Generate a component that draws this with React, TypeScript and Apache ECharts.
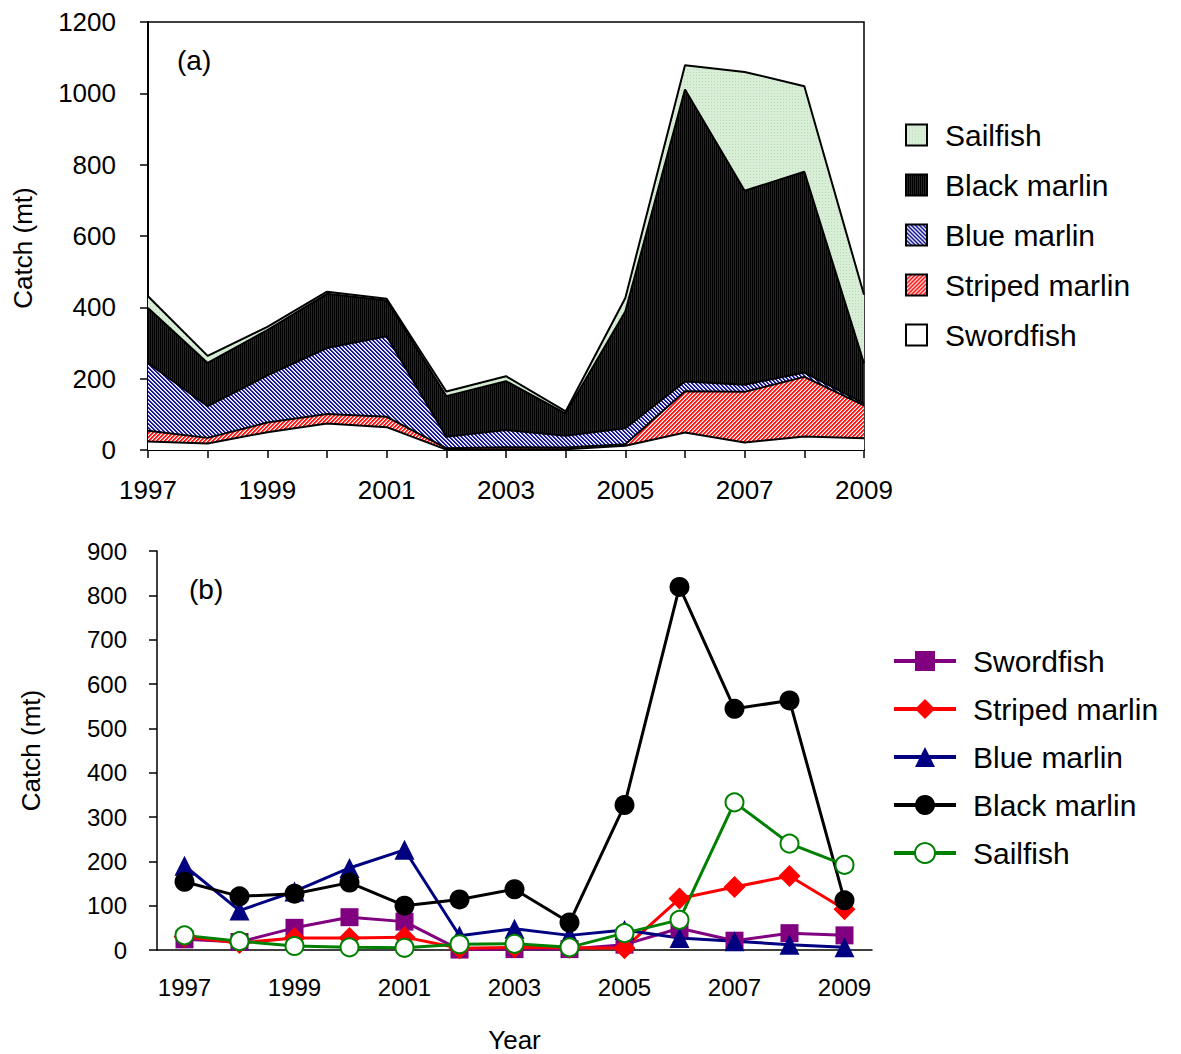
import React, { useEffect, useRef } from "react";
import * as echarts from "echarts";

// Annual catch (mt) by species, 1997-2009
const years = ["1997", "1998", "1999", "2000", "2001", "2002", "2003", "2004", "2005", "2006", "2007", "2008", "2009"];
const swordfish = [24, 18, 50, 74, 64, 1, 2, 2, 12, 49, 21, 38, 33];
const stripedMarlin = [30, 16, 27, 27, 29, 4, 6, 5, 4, 116, 142, 167, 92];
const blueMarlin = [190, 89, 132, 185, 226, 32, 48, 33, 45, 27, 20, 12, 6];
const blackMarlin = [154, 121, 127, 152, 100, 114, 137, 62, 327, 819, 544, 563, 112];
const sailfish = [33, 20, 9, 6, 5, 13, 14, 6, 38, 68, 333, 240, 192];

const FONT = "'Liberation Sans', Arial, Helvetica, sans-serif";
const plainNumber = (v: number) => String(v);

// Small repeating bitmap tiles used as hatch fills
function tile(size: number, paint: (x: number, y: number) => string) {
  const c = document.createElement("canvas");
  c.width = size;
  c.height = size;
  const ctx = c.getContext("2d")!;
  for (let y = 0; y < size; y++) {
    for (let x = 0; x < size; x++) {
      ctx.fillStyle = paint(x, y);
      ctx.fillRect(x, y, 1, 1);
    }
  }
  return { image: c.toDataURL(), repeat: "repeat", imageWidth: size, imageHeight: size } as any;
}

function makeFills() {
  return {
    sail: tile(3, (x, y) => (x % 3 === 0 && y % 3 === 0 ? "#b9dab5" : "#d9eed6")),
    black: tile(2, (x) => (x === 0 ? "#000000" : "#262626")),
    blue: tile(4, (x, y) => ((x - y + 8) % 4 < 2 ? "#1a1a96" : (x - y + 8) % 4 === 2 ? "#c0c0ea" : "#ffffff")),
    striped: tile(4, (x, y) => ((x + y) % 4 < 2 ? "#ff1a1a" : (x + y) % 4 === 2 ? "#ff9090" : "#ffffff")),
    sword: "#ffffff",
  };
}

function topOption(f: ReturnType<typeof makeFills>): any {
  const areaSeries = (name: string, data: number[], fill: any) => ({
    name,
    type: "line",
    stack: "catch",
    data,
    symbol: "none",
    showSymbol: false,
    lineStyle: { color: "#000", width: 2 },
    itemStyle: { color: "#000" },
    areaStyle: { color: fill, opacity: 1 },
    emphasis: { disabled: true },
  });
  const legendItem = (name: string, fill: any) => ({
    name,
    icon: "rect",
    itemStyle: { color: fill, borderColor: "#000", borderWidth: 2, opacity: 1 },
  });
  return {
    animation: false,
    textStyle: { fontFamily: FONT, color: "#000" },
    title: {
      text: "(a)",
      left: 172,
      top: 41,
      textStyle: { fontSize: 28, fontWeight: "normal", color: "#000", fontFamily: FONT },
    },
    grid: {
      left: 148,
      top: 22,
      width: 716,
      height: 428,
      outerBoundsMode: "none",
      show: true,
      borderColor: "#000",
      borderWidth: 1.5,
      backgroundColor: "transparent",
    },
    legend: {
      orient: "vertical",
      left: 905,
      top: 120,
      padding: 0,
      itemWidth: 21,
      itemHeight: 21,
      itemGap: 20,
      selectedMode: false,
      textStyle: { fontSize: 30, lineHeight: 30, color: "#000", fontFamily: FONT, padding: [0, 0, 0, 13] },
      data: [
        legendItem("Sailfish", f.sail),
        legendItem("Black marlin", f.black),
        legendItem("Blue marlin", f.blue),
        legendItem("Striped marlin", f.striped),
        legendItem("Swordfish", f.sword),
      ],
    },
    xAxis: {
      type: "category",
      data: years,
      boundaryGap: false,
      axisLine: { lineStyle: { color: "#000", width: 2 } },
      axisTick: { interval: 0, length: 8, lineStyle: { color: "#000", width: 1.5 } },
      axisLabel: { interval: 1, fontSize: 26, color: "#000", margin: 27, fontFamily: FONT },
      splitLine: { show: false },
    },
    yAxis: {
      type: "value",
      min: 0,
      max: 1200,
      interval: 200,
      name: "Catch (mt)",
      nameLocation: "middle",
      nameGap: 112,
      nameTextStyle: { fontSize: 26, color: "#000", fontFamily: FONT, padding: [0, 24, 0, 0] },
      axisLine: { show: true, lineStyle: { color: "#000", width: 2 } },
      axisTick: { show: true, length: 8, lineStyle: { color: "#000", width: 1.5 } },
      axisLabel: { fontSize: 26, color: "#000", margin: 32, fontFamily: FONT, formatter: plainNumber },
      splitLine: { show: false },
    },
    series: [
      areaSeries("Swordfish", swordfish, f.sword),
      areaSeries("Striped marlin", stripedMarlin, f.striped),
      areaSeries("Blue marlin", blueMarlin, f.blue),
      areaSeries("Black marlin", blackMarlin, f.black),
      areaSeries("Sailfish", sailfish, f.sail),
    ],
  };
}

function bottomOption(): any {
  const lineSeries = (name: string, data: number[], color: string, symbol: string, size: number) => ({
    name,
    type: "line",
    data,
    symbol,
    symbolSize: size,
    showSymbol: true,
    lineStyle: { color, width: 3 },
    itemStyle: symbol === "emptyCircle" ? { color, borderColor: color, borderWidth: 2 } : { color },
    emphasis: { disabled: true },
  });
  return {
    animation: false,
    textStyle: { fontFamily: FONT, color: "#000" },
    title: {
      text: "(b)",
      left: 184,
      top: 50,
      textStyle: { fontSize: 28, fontWeight: "normal", color: "#000", fontFamily: FONT },
    },
    grid: { left: 157, top: 31, width: 715, height: 399, outerBoundsMode: "none" },
    legend: {
      orient: "vertical",
      left: 892,
      top: 126,
      padding: 0,
      itemWidth: 62,
      itemHeight: 25,
      itemGap: 18,
      selectedMode: false,
      lineStyle: { width: 4 },
      textStyle: { fontSize: 30, lineHeight: 30, color: "#000", fontFamily: FONT, padding: [0, 0, 0, 12] },
      data: ["Swordfish", "Striped marlin", "Blue marlin", "Black marlin", "Sailfish"],
    },
    xAxis: {
      type: "category",
      data: years,
      boundaryGap: true,
      name: "Year",
      nameLocation: "middle",
      nameGap: 77,
      nameTextStyle: { fontSize: 26, color: "#000", fontFamily: FONT },
      axisLine: { lineStyle: { color: "#000", width: 1.5 } },
      axisTick: { interval: 0, length: 8, lineStyle: { color: "#000", width: 1.5 } },
      axisLabel: { interval: 1, fontSize: 24, color: "#000", margin: 25, fontFamily: FONT },
      splitLine: { show: false },
    },
    yAxis: {
      type: "value",
      min: 0,
      max: 900,
      interval: 100,
      name: "Catch (mt)",
      nameLocation: "middle",
      nameGap: 113,
      nameTextStyle: { fontSize: 26, color: "#000", fontFamily: FONT },
      axisLine: { show: true, lineStyle: { color: "#000", width: 1.5 } },
      axisTick: { show: true, length: 8, lineStyle: { color: "#000", width: 1.5 } },
      axisLabel: { fontSize: 24, color: "#000", margin: 30, fontFamily: FONT, formatter: plainNumber },
      splitLine: { show: false },
    },
    series: [
      lineSeries("Swordfish", swordfish, "#800080", "rect", 18),
      lineSeries("Striped marlin", stripedMarlin, "#ff0000", "diamond", 22),
      lineSeries("Blue marlin", blueMarlin, "#000080", "triangle", 20),
      lineSeries("Black marlin", blackMarlin, "#000000", "circle", 20),
      lineSeries("Sailfish", sailfish, "#008000", "emptyCircle", 18),
    ],
  };
}

export default function App() {
  const topRef = useRef<HTMLDivElement>(null);
  const bottomRef = useRef<HTMLDivElement>(null);

  useEffect(() => {
    const fills = makeFills();
    const top = echarts.init(topRef.current!, undefined, { renderer: "svg" });
    const bottom = echarts.init(bottomRef.current!, undefined, { renderer: "svg" });
    top.setOption(topOption(fills));
    bottom.setOption(bottomOption());
    return () => {
      top.dispose();
      bottom.dispose();
    };
  }, []);

  return (
    <div style={{ position: "fixed", left: 0, top: 0, width: 1181, height: 1054, background: "#fff" }}>
      <div ref={topRef} style={{ position: "absolute", left: 0, top: 0, width: 1181, height: 520 }} />
      <div ref={bottomRef} style={{ position: "absolute", left: 0, top: 520, width: 1181, height: 534 }} />
    </div>
  );
}
